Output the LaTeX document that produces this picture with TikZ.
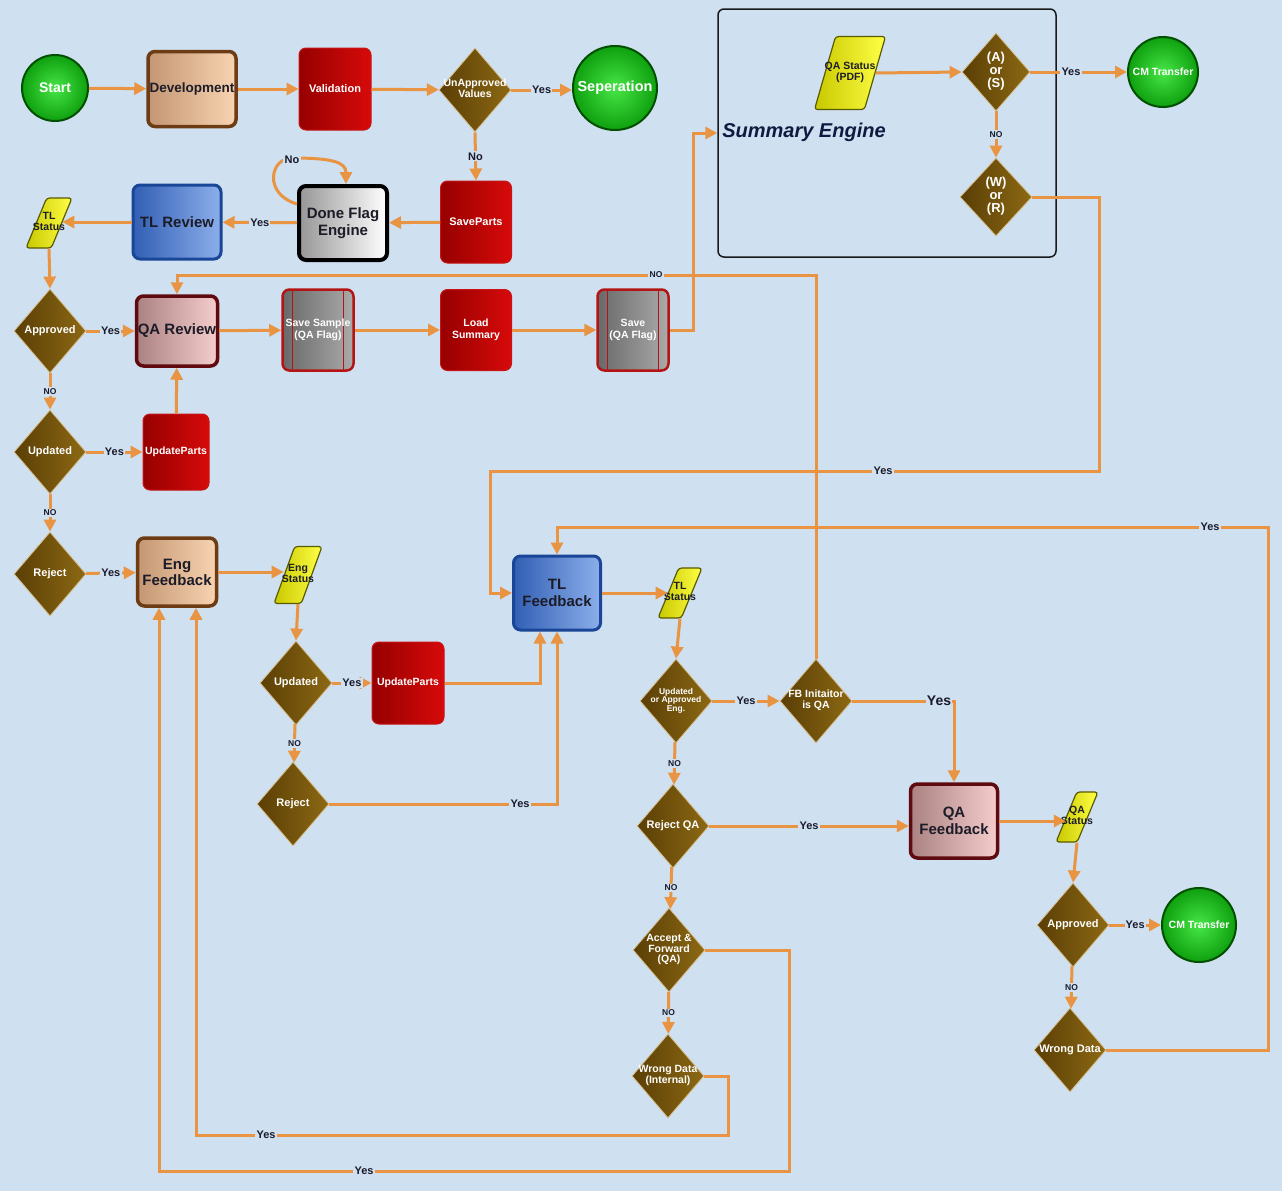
\documentclass[tikz,border=0pt]{standalone}
\usepackage{fontspec}
\setmainfont{Liberation Sans}
\usetikzlibrary{shapes.geometric,arrows.meta,calc}
\definecolor{bgc}{RGB}{207,224,240}
\definecolor{lineor}{RGB}{232,148,66}
\definecolor{labc}{RGB}{26,26,42}
\definecolor{devb}{RGB}{110,60,20}
\definecolor{devl}{RGB}{196,150,115}
\definecolor{devr}{RGB}{248,212,178}
\definecolor{redl}{RGB}{150,0,0}
\definecolor{redr}{RGB}{215,10,10}
\definecolor{redb}{RGB}{200,20,20}
\definecolor{grayl}{RGB}{105,105,105}
\definecolor{grayr}{RGB}{170,170,170}
\definecolor{grayb}{RGB}{180,20,20}
\definecolor{bluel}{RGB}{50,95,180}
\definecolor{bluer}{RGB}{140,175,235}
\definecolor{blueb}{RGB}{25,70,150}
\definecolor{pinkl}{RGB}{170,130,130}
\definecolor{pinkr}{RGB}{245,205,205}
\definecolor{pinkb}{RGB}{95,10,15}
\definecolor{whitel}{RGB}{150,150,150}
\definecolor{decl}{RGB}{90,62,5}
\definecolor{decr}{RGB}{140,105,20}
\definecolor{decb}{RGB}{215,190,140}
\definecolor{yell}{RGB}{200,200,0}
\definecolor{yelr}{RGB}{255,255,70}
\definecolor{yelb}{RGB}{90,90,0}
\definecolor{gin}{RGB}{70,230,70}
\definecolor{gout}{RGB}{15,160,15}
\definecolor{gb}{RGB}{0,80,0}
\definecolor{txtd}{RGB}{28,28,40}
\definecolor{summc}{RGB}{16,26,64}
\newcommand\fsz[2]{\fontsize{#1}{#2}\selectfont}
\newcommand\dtxt[1]{\makebox[0pt]{\renewcommand\arraystretch{0.85}\begin{tabular}{@{}c@{}}#1\end{tabular}}}
\begin{document}
\begin{tikzpicture}[x=1pt,y=-1pt,
  box/.style={rectangle, rounded corners=7, inner sep=0, align=center},
  devbox/.style={box, draw=devb, line width=3.5, left color=devl, right color=devr, text=txtd, font=\bfseries\fsz{15}{16}},
  redbox/.style={box, draw=redb, line width=1, left color=redl, right color=redr, text=white, font=\bfseries\fsz{10.5}{12}},
  graybox/.style={box, draw=grayb, line width=2.5, left color=grayl, right color=grayr, text=white, font=\bfseries\fsz{10.5}{12},
     path picture={\draw[grayb, line width=1] ([xshift=10]path picture bounding box.north west) -- ([xshift=10]path picture bounding box.south west);
                   \draw[grayb, line width=1] ([xshift=-10]path picture bounding box.north east) -- ([xshift=-10]path picture bounding box.south east);}},
  bluebox/.style={box, draw=blueb, line width=3, left color=bluel, right color=bluer, text=txtd, font=\bfseries\fsz{15}{17}},
  pinkbox/.style={box, draw=pinkb, line width=3.5, left color=pinkl, right color=pinkr, text=txtd, font=\bfseries\fsz{15}{17}},
  whitebox/.style={box, draw=black, line width=4, left color=whitel, right color=white, text=txtd, font=\bfseries\fsz{15}{17}},
  term/.style={circle, inner sep=0, draw=gb, line width=2, inner color=gin, outer color=gout, text=white, font=\bfseries\fsz{14}{15}},
  dec/.style={diamond, inner sep=0, minimum width=72, minimum height=84, draw=decb, line width=0.8, left color=decl, right color=decr, text=white, font=\bfseries\fsz{11}{12.5}},
  io/.style={trapezium, trapezium left angle=45, trapezium right angle=135, trapezium stretches body=true, inner sep=0, rounded corners=3,
     draw=yelb, line width=1.2, left color=yell, right color=yelr, text=txtd, font=\bfseries\fsz{10.5}{12}},
  ln/.style={draw=lineor, line width=3},
  arr/.style={ln, -{Triangle[length=12pt,width=12pt]}},
  lab/.style={fill=bgc, inner sep=1.2, text=labc, font=\bfseries\fsz{11}{12}},
  labno/.style={lab, font=\bfseries\fsz{8.5}{9}}]
\fill[bgc] (0,0) rectangle (1282,1191);
\useasboundingbox (0,0) rectangle (1282,1191);

% summary engine group
\node[box, draw=black!90, line width=1.5, minimum width=338, minimum height=248, rounded corners=6] (summ) at (887,133) {};
\node[text=summc, font=\bfseries\itshape\fsz{20}{22}] (summlab) at (804,132) {Summary Engine};

% row 1
\node[term, minimum size=66] (start) at (55,88) {Start};
\node[devbox, minimum width=88, minimum height=75, font=\bfseries\fsz{13.5}{15}] (dev) at (192,89) {Development};
\node[redbox, minimum width=72, minimum height=82, font=\bfseries\fsz{11}{12}] (val) at (335,89) {Validation};
\node[dec, font=\bfseries\fsz{10.5}{12}] (unap) at (475,90) {\dtxt{UnApproved\\Values}};
\node[term, minimum size=84, font=\bfseries\fsz{14.5}{15}] (sep) at (615,88) {Seperation};

% row 2
\node[redbox, minimum width=71, minimum height=82, font=\bfseries\fsz{11}{12}] (saveparts) at (476,222) {SaveParts};
\node[whitebox, minimum width=88, minimum height=74] (done) at (343,223) {Done Flag\\Engine};
\node[bluebox, minimum width=88, minimum height=74] (tlrev) at (177,222) {TL Review};
\node[io, minimum width=46, minimum height=50] (tlst1) at (49,223) {\dtxt{TL\\Status}};

% row 3
\node[dec] (appr1) at (50,331) {\dtxt{Approved}};
\node[pinkbox, minimum width=81, minimum height=70] (qarev) at (177,331) {QA Review};
\node[graybox, minimum width=71, minimum height=81] (savesamp) at (318,330) {Save Sample\\(QA Flag)};
\node[redbox, minimum width=71, minimum height=81] (load) at (476,330) {Load\\Summary};
\node[graybox, minimum width=71, minimum height=81] (saveqa) at (633,330) {Save\\(QA Flag)};

% summary engine content
\node[io, minimum width=71, minimum height=73] (qapdf) at (850,73) {\dtxt{QA Status\\(PDF)}};
\node[dec, minimum width=68, minimum height=78, font=\bfseries\fsz{13}{15}] (as) at (996,72) {\dtxt{(A)\\or\\(S)}};
\node[dec, minimum width=72, minimum height=78, font=\bfseries\fsz{13}{15}] (wr) at (996,197) {\dtxt{(W)\\or\\(R)}};
\node[term, minimum size=70, font=\bfseries\fsz{10.5}{12}] (cm1) at (1163,72) {CM Transfer};

% left column
\node[dec] (upd1) at (50,452) {\dtxt{Updated}};
\node[redbox, minimum width=66, minimum height=76] (updparts1) at (176,452) {UpdateParts};
\node[dec] (rej1) at (50,574) {\dtxt{Reject}};
\node[devbox, minimum width=79, minimum height=68] (engfb) at (177,572) {Eng\\Feedback};
\node[io, minimum width=48, minimum height=57] (engst) at (298,575) {\dtxt{Eng\\Status}};
\node[dec] (upd2) at (296,683) {\dtxt{Updated}};
\node[redbox, minimum width=72, minimum height=82] (updparts2) at (408,683) {UpdateParts};
\node[dec] (rej2) at (293,804) {\dtxt{Reject}};

% middle / right
\node[bluebox, minimum width=87, minimum height=74] (tlfb) at (557,593) {TL\\Feedback};
\node[io, minimum width=44, minimum height=50] (tlst2) at (680,593) {\dtxt{TL\\Status}};
\node[dec, font=\bfseries\fsz{8.5}{10}] (updappr) at (676,701) {\dtxt{Updated\\or Approved\\Eng.}};
\node[dec, font=\bfseries\fsz{10.5}{12}] (fbinit) at (816,701) {\dtxt{FB Initaitor\\is QA}};
\node[dec] (rejqa) at (673,826) {\dtxt{Reject QA}};
\node[pinkbox, minimum width=87, minimum height=74] (qafb) at (954,821) {QA\\Feedback};
\node[io, minimum width=42, minimum height=50] (qast) at (1077,817) {\dtxt{QA\\Status}};
\node[dec] (appr2) at (1073,925) {\dtxt{Approved}};
\node[term, minimum size=74, font=\bfseries\fsz{10.5}{12}] (cm2) at (1199,925) {CM Transfer};
\node[dec] (wrong) at (1070,1050) {\dtxt{Wrong Data}};
\node[dec, font=\bfseries\fsz{10.5}{12}] (accfw) at (669,950) {\dtxt{Accept \&\\Forward\\(QA)}};
\node[dec, font=\bfseries\fsz{10.5}{12}] (wrongint) at (668,1076) {\dtxt{Wrong Data\\(Internal)}};

% connectors
\draw[arr] (start) -- (dev);
\draw[arr] (dev) -- (val);
\draw[arr] (val) -- (unap);
\draw[arr] (unap.east) -- (unap.east -| sep.west) node[lab, midway] (l1) {Yes};
\draw[arr] (unap.south) -- (saveparts.north) node[lab, midway] (l2) {No};
\draw[arr] (saveparts) -- (done);
\draw[arr] (done) -- (tlrev) node[lab, midway] (l3) {Yes};
\draw[arr] ($(done.north west)+(0,20)$) .. controls +(-34,-10) and +(-22,0) .. (292,158) .. controls +(40,0) and +(0,-22) .. ($(done.north)+(3,0)$);
\node[lab] (l4) at (292,160) {No};
\draw[arr] (tlrev.west) -- (tlrev.west -| tlst1.east);
\draw[arr] (tlst1.south) -- (appr1.north);
\draw[arr] (appr1) -- (qarev) node[lab, midway] (l5) {Yes};
\draw[arr] (qarev) -- (savesamp);
\draw[arr] (savesamp) -- (load);
\draw[arr] (load) -- (saveqa);
\draw[arr] (saveqa.east) -- ++(24,0) |- (summ.west);
\draw[arr] (qapdf.east) -- (as.west);
\draw[arr] (as) -- (cm1) node[lab, pos=0.42] (l6) {Yes};
\draw[arr] (as) -- (wr) node[labno, midway] (l7) {NO};
\draw[arr] (wr.east) -- (1099,197) -- (1099,471) -- (490,471) |- (tlfb.west);
\node[lab] (l8) at (883,471) {Yes};
\draw[arr] (appr1) -- (upd1) node[labno, midway] (l9) {NO};
\draw[arr] (upd1) -- (updparts1) node[lab, midway] (l10) {Yes};
\draw[arr] (updparts1) -- (qarev);
\draw[arr] (upd1) -- (rej1) node[labno, midway] (l11) {NO};
\draw[arr] (rej1) -- (engfb) node[lab, midway] (l12) {Yes};
\draw[arr] (engfb.east) -- (engfb.east -| engst.west);
\draw[arr] (engst.south) -- (upd2.north);
\draw[arr] (upd2) -- (updparts2) node[lab, midway] (l13) {Yes};
\draw[arr] (updparts2.east) -| ($(tlfb.south)+(-17,0)$);
\draw[arr] (upd2) -- (rej2) node[labno, midway] (l14) {NO};
\draw[arr] (rej2.east) -| (tlfb.south);
\node[lab] (l15) at (520,804) {Yes};
\draw[arr] (tlfb.east) -- (tlfb.east -| tlst2.west);
\draw[arr] (tlst2.south) -- (updappr.north);
\draw[arr] (updappr) -- (fbinit) node[lab, midway] (l16) {Yes};
\draw[arr] (fbinit.east) -| (qafb.north);
\node[lab, font=\bfseries\fsz{14}{15}] (l17) at (939,701) {Yes};
\draw[arr] (fbinit.north) -- (816,275) -| (qarev.north);
\node[labno] (l18) at (656,275) {NO};
\draw[arr] (updappr) -- (rejqa) node[labno, midway] (l19) {NO};
\draw[arr] (rejqa.east) -- (rejqa.east -| qafb.west) node[lab, midway] (l20) {Yes};
\draw[arr] (qafb.east) -- (qafb.east -| qast.west);
\draw[arr] (qast.south) -- (appr2.north);
\draw[arr] (appr2) -- (cm2) node[lab, midway] (l21) {Yes};
\draw[arr] (appr2) -- (wrong) node[labno, midway] (l22) {NO};
\draw[arr] (wrong.east) -- (1268,1050) -- (1268,527) -| (tlfb.north);
\node[lab] (l23) at (1210,527) {Yes};
\draw[arr] (rejqa) -- (accfw) node[labno, midway] (l24) {NO};
\draw[arr] (accfw) -- (wrongint) node[labno, midway] (l25) {NO};
\draw[arr] (accfw.east) -- (789,950) -- (789,1171) -| ($(engfb.south)+(-18,0)$);
\node[lab] (l26) at (364,1171) {Yes};
\draw[arr] (wrongint.east) -- (728,1076) -- (728,1135) -| ($(engfb.south)+(19,0)$);
\node[lab] (l27) at (266,1135) {Yes};
\end{tikzpicture}
\end{document}
